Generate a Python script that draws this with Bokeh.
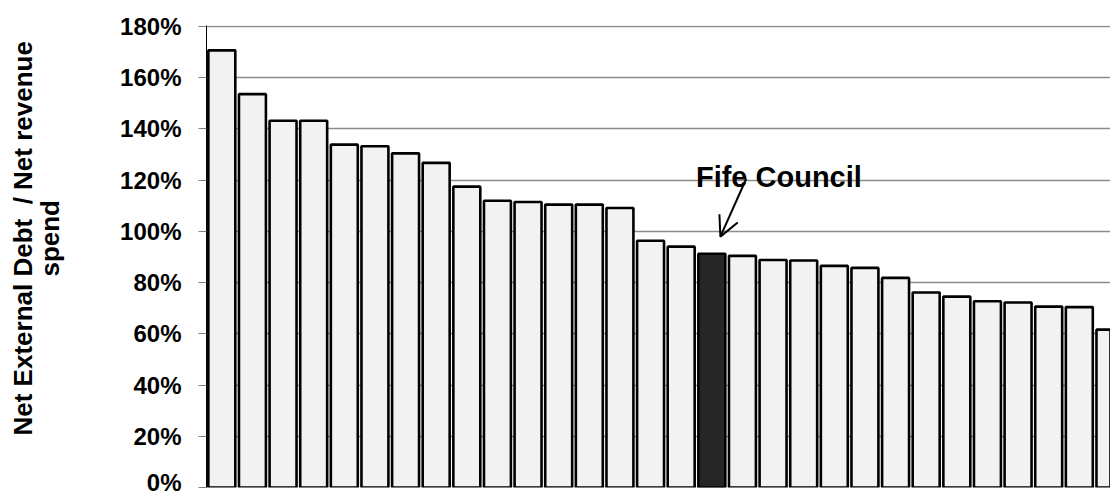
import math

from bokeh.embed import file_html
from bokeh.layouts import row
from bokeh.models import (Arrow, ColumnDataSource, FixedTicker, Label,
                          OpenHead, PrintfTickFormatter, Range1d)
from bokeh.plotting import figure
from bokeh.resources import INLINE

# Net external debt as a share of net revenue spend, councils ranked high to low
ratio_pct = [170.6, 153.5, 143.1, 143.1, 133.8, 133.2, 130.4, 126.7, 117.4, 111.9,
             111.4, 110.4, 110.4, 109.1, 96.3, 94.0, 91.2, 90.4, 88.8, 88.6,
             86.5, 85.7, 81.8, 76.1, 74.5, 72.7, 72.2, 70.6, 70.4, 61.6]
fife_index = 16
fife_label = "Fife Council"
y_ticks = [0, 20, 40, 60, 80, 100, 120, 140, 160, 180]
y_title_lines = ["Net External Debt\u00a0 / Net revenue", "spend"]

positions = list(range(len(ratio_pct)))
fills = ["#262626" if i == fife_index else "#f2f2f2" for i in positions]
source = ColumnDataSource(dict(x=positions, pct=ratio_pct, fill=fills))

FONT = "Liberation Sans"
H = 495
TITLE_W = 75

# Narrow panel on the left that carries the two-line vertical axis title
tp = figure(width=TITLE_W, height=H, output_backend="svg", toolbar_location=None,
            x_range=Range1d(0, TITLE_W), y_range=Range1d(0, H),
            min_border=0)
tp.axis.visible = False
tp.grid.visible = False
tp.outline_line_color = None
tp.background_fill_color = "white"
tp.border_fill_color = "white"
tp.text(x=[22, 49], y=[H - 228, H - 228], text=y_title_lines,
        angle=math.pi / 2, text_align="center", text_baseline="alphabetic",
        text_font={"value": FONT}, text_font_style="bold",
        text_font_size="26px", text_color="black")

p = figure(width=1110 - TITLE_W, height=H, output_backend="svg", toolbar_location=None,
           x_range=Range1d(-0.5, 29.018), y_range=Range1d(0, 180.3),
           min_border_left=206 - TITLE_W, min_border_right=0,
           min_border_top=25, min_border_bottom=8)
p.outline_line_color = None
p.background_fill_color = "white"
p.border_fill_color = "white"

p.xaxis.visible = False
p.xgrid.visible = False
p.ygrid.grid_line_color = "#8c8c8c"
p.ygrid.grid_line_width = 1.5

yax = p.yaxis[0]
yax.ticker = FixedTicker(ticks=y_ticks)
yax.formatter = PrintfTickFormatter(format="%d%%")
yax.minor_tick_line_color = None
yax.major_tick_in = 0
yax.major_tick_out = 8
yax.major_tick_line_color = "#808080"
yax.axis_line_color = "black"
yax.major_label_standoff = 17
yax.major_label_text_font = FONT
yax.major_label_text_font_style = "bold"
yax.major_label_text_font_size = "24px"
yax.major_label_text_color = "black"

p.vbar(x="x", top="pct", width=0.88, source=source,
       fill_color="fill", line_color="black", line_width=2.6)

# Call-out pointing at the highlighted council
fife_val = ratio_pct[fife_index]
p.add_layout(Arrow(end=OpenHead(size=20, line_width=2, line_color="black"),
                   x_start=fife_index + 1.12, y_start=fife_val + 29.2,
                   x_end=fife_index + 0.28, y_end=fife_val + 6.7,
                   line_width=2, line_color="black"))
p.add_layout(Label(x=fife_index + 2.19, y=fife_val + 29.8, text=fife_label,
                   text_align="center", text_baseline="alphabetic",
                   text_font=FONT, text_font_style="bold",
                   text_font_size="29px", text_color="black"))

layout = row(tp, p, spacing=0)
open("out.html", "w").write(file_html(layout, INLINE))
